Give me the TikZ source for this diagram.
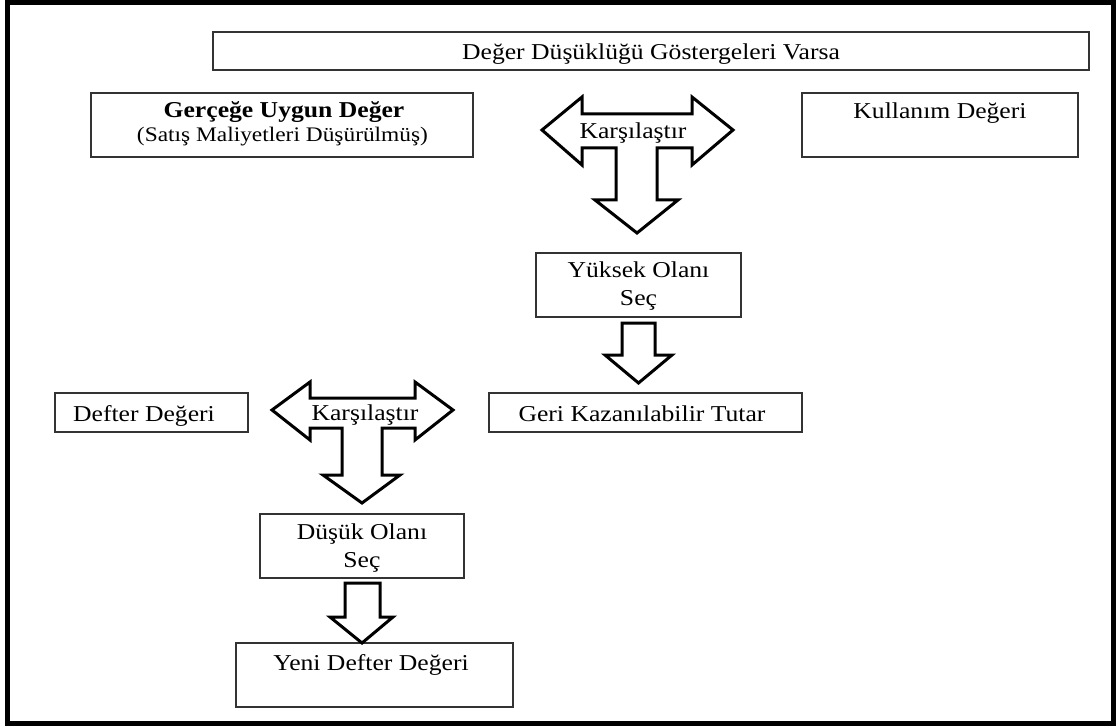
\documentclass[tikz,border=0pt]{standalone}
\usepackage{fontspec}
\setmainfont{Liberation Serif}[FakeStretch=1.13]
\begin{document}
\begin{tikzpicture}[x=1pt,y=-1pt,
  box/.style={draw=black!80, line width=1.3pt, fill=white, inner sep=0pt, align=center,
    font=\fontsize{22.7}{28}\selectfont},
  lbl/.style={inner sep=0pt, align=center, font=\fontsize{22.7}{28}\selectfont},
  blockarrow/.style={draw=black, line width=3pt, fill=white, line join=miter, miter limit=10},
  frame/.style={draw=black, line width=4.5pt}]
\useasboundingbox (0,0) rectangle (1118,727);
\draw[frame] (7.5,2.5) rectangle (1113.5,723.5);

% boxes
\node[box, minimum width=876, minimum height=38] (top) at (651,51) {};
\node[lbl, anchor=base] (top-t) at (651,60) {Değer Düşüklüğü Göstergeleri Varsa};

\node[box, minimum width=382, minimum height=64] (fv) at (282,125) {};
\node[lbl, anchor=base] (fv-t1) at (284,118) {\bfseries Gerçeğe Uygun Değer};
\node[lbl, anchor=base, font=\fontsize{20.7}{24}\selectfont] (fv-t2) at (282.5,142) {(Satış Maliyetleri Düşürülmüş)};

\node[box, minimum width=276, minimum height=64] (kd) at (940,125) {};
\node[lbl, anchor=base] (kd-t) at (940,119) {Kullanım Değeri};

\node[box, minimum width=205, minimum height=64] (ys) at (638.5,285) {};
\node[lbl, anchor=base] (ys-t1) at (638.5,277) {Yüksek Olanı};
\node[lbl, anchor=base] (ys-t2) at (638.5,305) {Seç};

\node[box, minimum width=313, minimum height=39] (gk) at (645.5,412.5) {};
\node[lbl, anchor=base] (gk-t) at (642,421) {Geri Kazanılabilir Tutar};

\node[box, minimum width=193, minimum height=39] (dd) at (151.5,412.5) {};
\node[lbl, anchor=base] (dd-t) at (144,421) {Defter Değeri};

\node[box, minimum width=204, minimum height=64] (ds) at (362,546) {};
\node[lbl, anchor=base] (ds-t1) at (362,539) {Düşük Olanı};
\node[lbl, anchor=base] (ds-t2) at (362,567) {Seç};

\node[box, minimum width=277, minimum height=64] (yd) at (374.5,675) {};
\node[lbl, anchor=base] (yd-t) at (371,670) {Yeni Defter Değeri};

% T-shaped compare arrow 1
\draw[blockarrow] (542,130) -- (582,97) -- (582,114) -- (692,114) -- (692,97) -- (733,130)
  -- (692,165) -- (692,148) -- (657,148) -- (657,200) -- (678,200) -- (637,233)
  -- (595,200) -- (616,200) -- (616,148) -- (582,148) -- (582,165) -- cycle;
\node[lbl, anchor=base] (k1) at (633,139) {Karşılaştır};

% T-shaped compare arrow 2
\draw[blockarrow] (272,410) -- (310,382) -- (310,398) -- (415,398) -- (415,382) -- (453,410)
  -- (415,440) -- (415,428) -- (382,428) -- (382,475) -- (400,475) -- (362,503)
  -- (323,475) -- (342,475) -- (342,428) -- (310,428) -- (310,440) -- cycle;
\node[lbl, anchor=base] (k2) at (365,420) {Karşılaştır};

% down arrows
\draw[blockarrow] (622,323) -- (655,323) -- (655,355) -- (672,355) -- (638.5,383)
  -- (605,355) -- (622,355) -- cycle;
\draw[blockarrow] (345,583) -- (380,583) -- (380,617) -- (393,617) -- (362,643)
  -- (330,617) -- (345,617) -- cycle;
\end{tikzpicture}
\end{document}
